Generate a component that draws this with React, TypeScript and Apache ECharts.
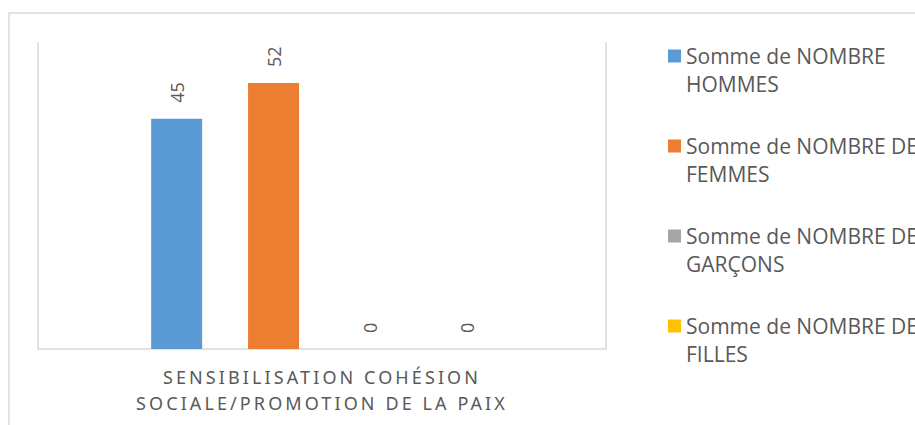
import { useEffect, useRef } from "react";
import * as echarts from "echarts";

const categories = ["SENSIBILISATION COHÉSION SOCIALE/PROMOTION DE LA PAIX"];
const seriesNames = [
  "Somme de NOMBRE HOMMES",
  "Somme de NOMBRE DE FEMMES",
  "Somme de NOMBRE DE GARÇONS",
  "Somme de NOMBRE DE FILLES",
];
const hommes = [45];
const femmes = [52];
const garcons = [0];
const filles = [0];
const seriesValues = [hommes, femmes, garcons, filles];
const colors = ["#5B9BD5", "#ED7D31", "#A5A5A5", "#FFC000"];

export default function App() {
  const ref = useRef<HTMLDivElement>(null);
  useEffect(() => {
    document.body.style.margin = "0";
    const style = document.createElement("style");
    style.textContent = `#chart text[style*="Noto Sans"] { letter-spacing: 3.1px; }`;
    document.head.appendChild(style);
    const chart = echarts.init(ref.current!, null, { renderer: "svg" });
    chart.setOption({
      animation: false,
      graphic: [
        {
          type: "rect",
          shape: { x: 9, y: 13, width: 2000, height: 2000 },
          style: { fill: "none", stroke: "#D9D9D9", lineWidth: 1.5 },
          silent: true,
          z: -10,
        },
      ],
      grid: { left: 38, right: 309, top: 42, bottom: 76 },
      xAxis: {
        type: "category",
        data: categories,
        axisLine: { show: true, lineStyle: { color: "#D9D9D9", width: 1.5 } },
        axisTick: { show: false },
        splitLine: { show: true, lineStyle: { color: "#D9D9D9", width: 1.5 } },
        axisLabel: {
          color: "#595959",
          fontSize: 18,
          fontFamily: "Noto Sans",
          lineHeight: 26,
          margin: 15,
          formatter: (v: string) => v.replace("COHÉSION ", "COHÉSION\n"),
        },
      },
      yAxis: {
        type: "value",
        min: 0,
        max: 60,
        show: false,
        splitLine: { show: false },
      },
      legend: {
        orient: "vertical",
        left: 668,
        top: 14,
        padding: 0,
        itemWidth: 13,
        itemHeight: 13,
        itemGap: 6,
        icon: "rect",
        data: seriesNames,
        formatter: (name: string) => "\n" + name.replace(/ (\S+)$/, "\n$1"),
        textStyle: {
          color: "#595959",
          fontSize: 21,
          lineHeight: 28,
          fontFamily: "Open Sans",
        },
      },
      series: seriesNames.map((name, i) => ({
        name,
        type: "bar",
        data: seriesValues[i],
        barWidth: 51,
        barGap: "90%",
        itemStyle: { color: colors[i] },
        label: {
          show: true,
          position: "top",
          rotate: 90,
          align: "left",
          verticalAlign: "middle",
          distance: 16,
          color: "#595959",
          fontSize: 18,
          fontFamily: "Open Sans",
        },
      })),
    });
    return () => {
      chart.dispose();
      style.remove();
    };
  }, []);
  return <div id="chart" ref={ref} style={{ width: 915, height: 425 }} />;
}
